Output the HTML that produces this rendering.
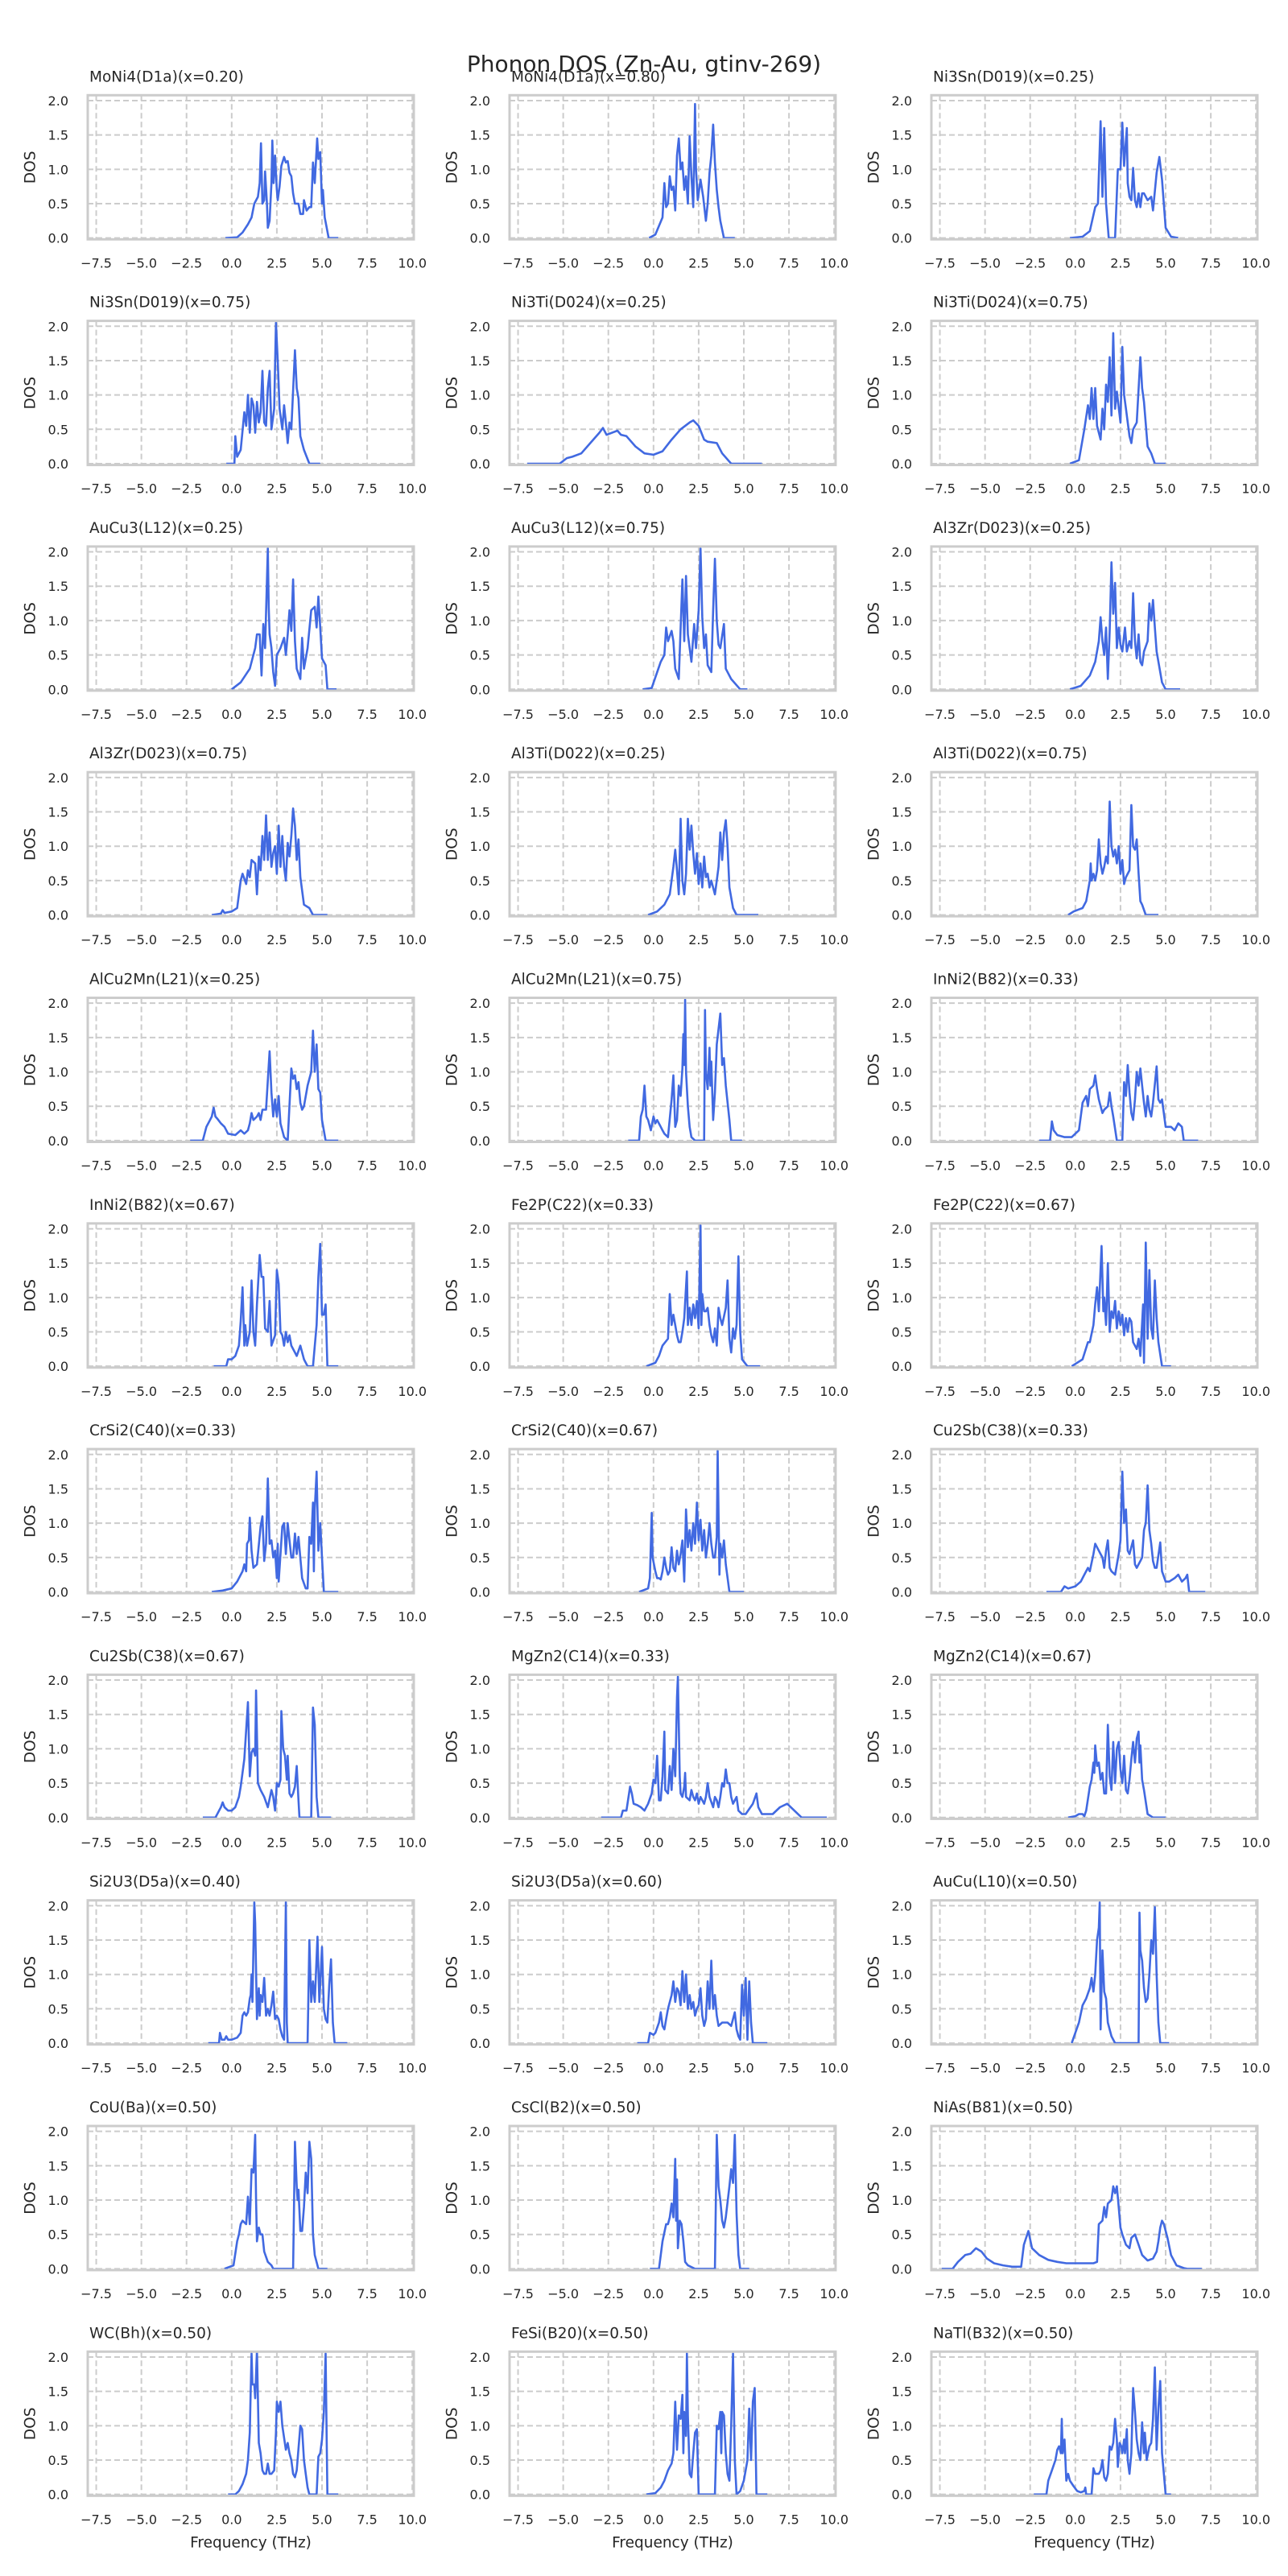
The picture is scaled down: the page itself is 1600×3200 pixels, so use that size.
<!DOCTYPE html>
<html><head><meta charset="utf-8"><style>
html,body{margin:0;padding:0;background:#fff;}
svg{display:block;font-family:"DejaVu Sans","Liberation Sans",sans-serif;}
</style></head><body>
<svg id="fig" width="1600" height="3200" viewBox="0 0 1600 3200" xmlns="http://www.w3.org/2000/svg">
<rect x="0" y="0" width="1600" height="3200" fill="#fff"/>
<text x="800" y="89" font-size="28" text-anchor="middle" fill="#262626">Phonon DOS (Zn-Au, gtinv-269)</text>
</svg>
<script>
const titles = ["MoNi4(D1a)(x=0.20)","MoNi4(D1a)(x=0.80)","Ni3Sn(D019)(x=0.25)","Ni3Sn(D019)(x=0.75)","Ni3Ti(D024)(x=0.25)","Ni3Ti(D024)(x=0.75)","AuCu3(L12)(x=0.25)","AuCu3(L12)(x=0.75)","Al3Zr(D023)(x=0.25)","Al3Zr(D023)(x=0.75)","Al3Ti(D022)(x=0.25)","Al3Ti(D022)(x=0.75)","AlCu2Mn(L21)(x=0.25)","AlCu2Mn(L21)(x=0.75)","InNi2(B82)(x=0.33)","InNi2(B82)(x=0.67)","Fe2P(C22)(x=0.33)","Fe2P(C22)(x=0.67)","CrSi2(C40)(x=0.33)","CrSi2(C40)(x=0.67)","Cu2Sb(C38)(x=0.33)","Cu2Sb(C38)(x=0.67)","MgZn2(C14)(x=0.33)","MgZn2(C14)(x=0.67)","Si2U3(D5a)(x=0.40)","Si2U3(D5a)(x=0.60)","AuCu(L10)(x=0.50)","CoU(Ba)(x=0.50)","CsCl(B2)(x=0.50)","NiAs(B81)(x=0.50)","WC(Bh)(x=0.50)","FeSi(B20)(x=0.50)","NaTl(B32)(x=0.50)"];
const xTicks = [-7.5,-5,-2.5,0,2.5,5,7.5,10];
const xTickLabels = ["\u22127.5","\u22125.0","\u22122.5","0.0","2.5","5.0","7.5","10.0"];
const yTicks = [0,0.5,1,1.5,2];
const yTickLabels = ["0.0","0.5","1.0","1.5","2.0"];
// flat [freq, dos, freq, dos, ...] per subplot
const s0=[-0.35,0,0.3,0.01,0.6,0.08,0.9,0.2,1.1,0.3,1.25,0.5,1.45,0.6,1.55,0.8,1.62,1.38,1.7,0.5,1.8,0.55,1.85,0.97,1.95,0.5,2.0,0.15,2.1,0.25,2.2,0.8,2.25,1.42,2.32,0.8,2.4,1.2,2.5,0.7,2.55,0.55,2.65,0.75,2.75,1.05,2.9,1.18,3.0,1.1,3.1,1.12,3.2,0.95,3.3,0.9,3.4,0.65,3.5,0.5,3.7,0.5,3.8,0.35,3.95,0.35,4.0,0.55,4.1,0.45,4.15,0.4,4.3,0.45,4.4,0.45,4.5,1.1,4.6,0.8,4.73,1.45,4.8,1.15,4.9,1.25,5.0,0.5,5.05,0.7,5.15,0.3,5.37,0,5.9,0];
const s1=[-0.25,0,0.1,0.05,0.5,0.3,0.6,0.8,0.7,0.45,0.8,0.5,0.9,0.9,1.0,0.7,1.1,0.75,1.2,0.4,1.3,1.2,1.4,1.45,1.5,1.0,1.6,1.1,1.7,0.7,1.8,0.9,1.9,0.5,2.0,1.48,2.1,0.9,2.2,0.45,2.3,1.95,2.35,1.0,2.45,0.55,2.6,0.85,2.75,0.6,2.9,0.25,3.0,0.5,3.1,0.95,3.2,1.2,3.3,1.65,3.4,1.1,3.5,0.7,3.6,0.45,3.7,0.25,3.9,0,4.5,0];
const s2=[-0.3,0,0.4,0.02,0.8,0.1,1.1,0.45,1.25,0.5,1.4,1.7,1.5,0.6,1.6,1.6,1.7,0.5,1.85,0,2.2,0,2.35,1.0,2.5,1.0,2.6,1.68,2.7,1.05,2.85,1.6,2.9,0.8,3.0,0.6,3.1,0.55,3.2,1.02,3.3,0.55,3.4,0.45,3.5,0.65,3.6,0.45,3.7,0.65,3.8,0.65,4.0,0.55,4.2,0.6,4.3,0.4,4.5,0.95,4.65,1.18,4.8,0.85,5.0,0.15,5.3,0.02,5.7,0];
const s3=[-0.3,0,0.15,0,0.2,0.4,0.3,0.1,0.5,0.2,0.7,0.75,0.8,0.55,0.9,1.0,1.0,0.45,1.1,0.95,1.2,0.85,1.3,0.45,1.4,0.9,1.5,0.6,1.6,0.75,1.7,1.35,1.8,0.6,1.9,0.55,2.0,1.1,2.1,1.35,2.2,0.5,2.35,0.8,2.45,2.05,2.55,1.5,2.65,0.8,2.8,0.5,2.9,0.85,3.0,0.6,3.1,0.3,3.2,0.6,3.3,0.5,3.5,1.65,3.6,1.1,3.7,0.95,3.8,0.4,4.0,0.2,4.3,0,4.9,0];
const s4=[-7.0,0,-5.2,0,-4.8,0.08,-4.5,0.1,-4.0,0.15,-3.5,0.3,-3.0,0.45,-2.8,0.52,-2.6,0.42,-2.0,0.48,-1.8,0.42,-1.5,0.4,-1.0,0.25,-0.5,0.15,0,0.13,0.5,0.18,1.0,0.35,1.5,0.5,2.0,0.6,2.2,0.63,2.5,0.55,2.8,0.35,3.0,0.32,3.5,0.3,3.8,0.15,4.3,0,6.0,0];
const s5=[-0.3,0,0.2,0.05,0.5,0.5,0.7,0.85,0.8,0.65,0.9,1.1,1.0,0.65,1.1,1.1,1.2,0.55,1.4,0.35,1.5,0.8,1.6,0.5,1.7,1.15,1.8,0.9,1.9,1.55,2.0,0.7,2.1,1.9,2.2,0.8,2.3,1.05,2.5,0.6,2.6,1.7,2.7,1.0,2.8,0.8,2.9,0.6,3.0,0.4,3.1,0.3,3.2,0.5,3.4,0.6,3.6,1.55,3.7,1.1,3.8,0.9,4.0,0.25,4.2,0.15,4.4,0,5.0,0];
const s6=[0,0,0.5,0.1,1.0,0.3,1.3,0.6,1.4,0.8,1.55,0.8,1.65,0.2,1.75,0.95,1.85,0.6,2.0,2.05,2.05,1.2,2.1,0.8,2.2,0.6,2.3,0.25,2.4,0.05,2.5,0.5,2.7,0.6,2.9,0.75,3.0,0.5,3.1,0.8,3.2,1.15,3.3,0.85,3.4,1.6,3.5,0.7,3.6,0.3,3.8,0.15,3.9,0.75,4.0,0.3,4.2,0.6,4.4,1.15,4.6,1.2,4.7,0.9,4.8,1.35,4.9,0.9,5.0,0.45,5.2,0.35,5.3,0,5.8,0];
const s7=[-0.6,0,-0.1,0.02,0.4,0.4,0.6,0.5,0.7,0.9,0.8,0.7,1.0,0.85,1.1,0.7,1.2,0.3,1.4,0.15,1.6,1.6,1.7,0.7,1.8,1.65,1.9,0.8,2.0,0.6,2.1,0.4,2.25,0.95,2.35,0.6,2.5,1.15,2.6,2.05,2.7,1.05,2.8,0.6,2.9,0.8,3.0,0.35,3.2,0.25,3.3,1.15,3.4,1.9,3.5,1.0,3.6,0.65,3.7,0.6,3.9,0.95,4.0,0.3,4.3,0.15,4.8,0,5.2,0];
const s8=[-0.3,0,0.3,0.05,0.8,0.2,1.1,0.4,1.3,0.7,1.4,1.05,1.5,0.7,1.6,0.5,1.7,0.9,1.8,0.15,1.9,0.85,2.0,1.85,2.1,1.1,2.2,1.55,2.3,0.6,2.4,0.9,2.5,0.65,2.6,0.55,2.75,0.9,2.85,0.55,3.0,0.7,3.1,0.6,3.2,1.4,3.3,0.7,3.4,0.45,3.5,0.8,3.6,0.4,3.7,0.35,3.8,0.55,4.0,0.7,4.1,1.25,4.2,1.0,4.3,1.3,4.4,0.9,4.5,0.55,4.8,0.1,5.0,0,5.8,0];
const s9=[-1.1,0,-0.6,0.02,-0.5,0.07,-0.4,0.03,0,0.05,0.3,0.1,0.5,0.5,0.6,0.6,0.8,0.45,0.9,0.65,1.0,0.55,1.1,0.8,1.3,0.75,1.4,0.3,1.5,0.85,1.6,0.65,1.7,1.15,1.8,0.8,1.9,1.45,2.0,0.8,2.1,1.2,2.2,0.7,2.3,0.9,2.4,1.0,2.5,0.6,2.6,1.3,2.7,0.7,2.8,1.15,2.9,0.7,3.0,0.5,3.1,1.05,3.2,0.85,3.3,1.15,3.4,1.55,3.5,1.3,3.6,0.8,3.7,1.1,3.8,0.55,4.0,0.15,4.3,0.1,4.5,0,5.3,0];
const s10=[-0.3,0,0.2,0.05,0.6,0.15,0.9,0.3,1.1,0.7,1.2,0.95,1.3,0.65,1.4,0.3,1.5,1.4,1.6,0.5,1.7,0.3,1.8,0.6,1.9,1.4,2.0,0.95,2.1,1.3,2.2,0.9,2.3,0.6,2.4,0.9,2.5,0.45,2.6,0.75,2.7,0.4,2.8,0.85,2.9,0.55,3.0,0.6,3.1,0.4,3.2,0.5,3.4,0.3,3.5,0.5,3.6,0.7,3.7,1.2,3.8,0.8,3.9,1.2,4.0,1.38,4.1,1.0,4.2,0.4,4.4,0.1,4.6,0,5.8,0];
const s11=[-0.4,0,-0.1,0.05,0.2,0.08,0.4,0.1,0.6,0.2,0.8,0.5,0.85,0.75,0.9,0.5,1.0,0.6,1.1,0.5,1.2,0.65,1.3,1.1,1.4,0.75,1.5,0.6,1.6,0.7,1.7,0.85,1.8,0.75,1.9,1.65,2.0,1.0,2.1,0.85,2.2,0.95,2.3,0.75,2.4,1.0,2.5,0.6,2.6,0.8,2.7,0.45,2.8,0.55,3.0,0.65,3.1,1.6,3.2,1.0,3.3,0.95,3.4,1.1,3.5,0.6,3.6,0.2,3.7,0.15,3.9,0,4.6,0];
const s12=[-2.3,0,-1.6,0,-1.4,0.2,-1.2,0.3,-1.1,0.35,-1.0,0.48,-0.9,0.35,-0.8,0.32,-0.6,0.25,-0.4,0.2,-0.2,0.1,0.2,0.08,0.5,0.15,0.7,0.1,0.9,0.15,1.0,0.25,1.1,0.4,1.2,0.3,1.4,0.35,1.5,0.4,1.6,0.3,1.7,0.45,1.9,0.45,2.1,1.3,2.2,0.7,2.3,0.35,2.4,0.6,2.5,0.35,2.6,0.65,2.7,0.25,2.9,0.05,3.1,0,3.3,1.05,3.4,0.9,3.5,0.95,3.6,0.75,3.7,0.85,3.8,0.55,3.9,0.45,4.0,0.5,4.2,0.8,4.4,1.0,4.5,1.6,4.6,1.0,4.7,1.4,4.8,0.75,4.9,0.7,5.0,0.3,5.2,0,5.9,0];
const s13=[-1.4,0,-0.8,0,-0.7,0.35,-0.6,0.45,-0.5,0.8,-0.4,0.35,-0.3,0.3,-0.15,0.15,0,0.35,0.1,0.25,0.2,0.3,0.4,0.2,0.5,0.15,0.6,0.1,0.8,0.05,1.0,0.6,1.1,0.95,1.2,0.2,1.3,0.3,1.4,0.8,1.5,0.65,1.6,1.05,1.65,1.55,1.7,1.1,1.75,2.05,1.8,1.0,1.9,0.5,2.0,0.2,2.1,0.05,2.3,0,2.8,0,2.85,1.9,2.9,1.0,3.0,0.75,3.1,1.35,3.15,0.8,3.2,1.15,3.3,0.3,3.4,0.7,3.5,1.4,3.7,1.85,3.8,1.1,3.9,1.2,4.0,0.8,4.2,0.3,4.3,0,4.9,0];
const s14=[-2.0,0,-1.4,0,-1.3,0.28,-1.2,0.15,-1.0,0.08,-0.6,0.05,-0.2,0.05,0.2,0.15,0.4,0.55,0.6,0.65,0.7,0.5,0.8,0.75,1.0,0.8,1.1,0.95,1.2,0.75,1.3,0.6,1.4,0.5,1.5,0.4,1.6,0.45,1.8,0.5,1.9,0.7,2.0,0.5,2.1,0.35,2.3,0,2.6,0,2.7,0.85,2.8,0.65,2.9,1.1,3.0,0.7,3.1,0.4,3.2,0.3,3.3,0.6,3.4,1.0,3.5,0.8,3.6,1.05,3.7,0.8,3.8,0.55,3.9,0.35,4.0,0.65,4.1,0.45,4.2,0.35,4.3,0.55,4.5,1.08,4.6,0.6,4.7,0.55,4.8,0.6,5.0,0.2,5.3,0.2,5.5,0.15,5.7,0.25,5.9,0.2,6.0,0,6.8,0];
const s15=[-1.0,0,-0.3,0,-0.2,0.1,0,0.1,0.2,0.15,0.4,0.3,0.5,0.65,0.6,1.15,0.7,0.3,0.75,0.6,0.85,0.3,1.0,0.5,1.1,1.25,1.2,0.5,1.3,0.3,1.4,0.9,1.55,1.62,1.65,1.3,1.75,1.3,1.85,0.55,2.0,0.5,2.1,0.95,2.2,0.3,2.4,0.45,2.5,1.4,2.6,1.2,2.7,0.5,2.8,0.45,2.9,0.3,3.0,0.5,3.1,0.35,3.2,0.45,3.3,0.3,3.5,0.2,3.6,0.15,3.8,0.3,4.0,0.1,4.2,0,4.5,0,4.7,0.6,4.8,1.3,4.9,1.78,5.0,0.75,5.1,0.75,5.2,0.9,5.3,0,5.9,0];
const s16=[-0.4,0,0.1,0.05,0.3,0.15,0.5,0.3,0.8,0.4,0.9,1.05,1.0,0.6,1.1,0.75,1.2,0.6,1.3,0.45,1.4,0.35,1.5,0.35,1.6,0.5,1.7,0.7,1.85,1.38,1.9,0.6,2.0,0.85,2.1,0.6,2.2,0.9,2.3,0.7,2.4,0.95,2.5,0.55,2.6,2.05,2.65,0.6,2.7,1.05,2.8,0.8,2.9,0.8,3.0,0.85,3.1,0.6,3.2,0.45,3.3,0.35,3.4,0.55,3.5,0.3,3.6,0.85,3.7,0.7,3.8,0.6,4.0,0.85,4.1,1.25,4.2,0.4,4.3,0.2,4.4,0.55,4.5,0.4,4.6,0.6,4.7,1.6,4.8,0.5,4.9,0.1,5.2,0,5.9,0];
const s17=[-0.2,0,0.4,0.1,0.7,0.35,0.8,0.35,1.0,0.6,1.1,0.9,1.2,1.15,1.3,0.8,1.45,1.75,1.55,0.8,1.6,1.0,1.7,0.6,1.8,1.5,1.9,0.5,2.0,0.8,2.1,0.7,2.2,0.95,2.3,0.55,2.4,0.8,2.5,0.6,2.6,0.75,2.7,0.45,2.8,0.7,2.9,0.5,3.0,0.7,3.1,0.65,3.2,0.35,3.4,0.25,3.5,0.4,3.6,0.15,3.75,0.9,3.8,0.05,3.9,1.8,4.0,0.4,4.1,1.4,4.2,0.55,4.3,0.4,4.4,1.25,4.5,0.7,4.6,0.35,4.8,0,5.3,0];
const s18=[-1.1,0,-0.5,0.02,0,0.05,0.3,0.15,0.6,0.3,0.7,0.4,0.8,0.3,0.85,0.7,0.95,0.75,1.0,1.08,1.1,0.6,1.2,0.35,1.4,0.4,1.6,0.95,1.7,1.1,1.8,0.45,1.9,0.7,2.0,1.65,2.1,0.7,2.2,0.75,2.3,0.5,2.4,0.6,2.5,0.2,2.55,0.7,2.6,0.15,2.8,0.95,2.9,1.0,3.0,0.55,3.1,1.0,3.2,0.75,3.3,0.5,3.4,0.5,3.5,0.85,3.6,0.55,3.7,0.8,3.9,0.2,4.1,0.05,4.2,0.05,4.3,0.8,4.4,0.7,4.5,1.3,4.55,0.3,4.6,1.2,4.7,1.75,4.8,0.6,4.9,1.0,5.0,0.5,5.1,0,5.9,0];
const s19=[-0.8,0,-0.3,0.05,-0.2,0.2,-0.1,1.15,-0.05,0.5,0.1,0.3,0.2,0.2,0.3,0.2,0.4,0.18,0.5,0.3,0.6,0.5,0.7,0.35,0.8,0.25,0.9,0.3,1.0,0.65,1.1,0.35,1.2,0.3,1.3,0.6,1.4,0.4,1.5,0.55,1.6,0.75,1.7,0.15,1.8,1.2,1.9,0.65,2.0,0.9,2.1,0.6,2.2,1.0,2.3,0.7,2.4,1.3,2.5,0.75,2.6,1.05,2.7,0.6,2.8,0.9,2.9,0.5,3.0,0.7,3.1,1.0,3.2,0.7,3.3,0.5,3.4,0.5,3.5,0.8,3.55,2.05,3.65,0.25,3.7,0.7,3.8,0.5,3.9,0.75,4.0,0.4,4.2,0,5.0,0];
const s20=[-1.6,0,-0.8,0,-0.6,0.08,-0.4,0.05,0,0.08,0.3,0.15,0.5,0.25,0.7,0.35,0.8,0.3,1.0,0.55,1.1,0.7,1.3,0.6,1.4,0.55,1.5,0.5,1.6,0.35,1.7,0.6,1.8,0.75,1.9,0.35,2.0,0.3,2.2,0.25,2.4,0.55,2.5,0.75,2.6,1.75,2.7,1.0,2.8,1.2,2.9,0.6,3.0,0.55,3.2,0.75,3.3,0.4,3.4,0.35,3.6,0.45,3.7,0.5,3.8,0.9,3.9,1.0,4.0,1.55,4.1,0.9,4.2,0.7,4.3,0.45,4.4,0.35,4.5,0.35,4.7,0.72,4.8,0.3,5.0,0.15,5.2,0.15,5.5,0.2,5.7,0.25,5.9,0.15,6.1,0.2,6.2,0.25,6.3,0,7.2,0];
const s21=[-1.6,0,-0.9,0,-0.6,0.15,-0.5,0.22,-0.4,0.15,-0.2,0.1,0,0.1,0.2,0.15,0.4,0.3,0.5,0.45,0.7,0.85,0.9,1.68,1.0,0.6,1.1,0.95,1.2,1.0,1.3,0.9,1.35,1.85,1.45,0.5,1.6,0.4,1.8,0.3,2.0,0.15,2.2,0.4,2.3,0.3,2.4,0.1,2.5,0.5,2.6,0.45,2.7,0.55,2.75,1.55,2.85,1.0,2.95,0.9,3.05,0.55,3.1,0.9,3.2,0.35,3.3,0.3,3.4,0.35,3.5,0.45,3.6,0.75,3.7,0.25,3.75,0,4.4,0,4.5,1.6,4.6,1.35,4.7,0.3,4.8,0,5.5,0];
const s22=[-2.9,0,-1.8,0,-1.7,0.1,-1.5,0.1,-1.3,0.45,-1.2,0.35,-1.1,0.2,-0.9,0.18,-0.7,0.15,-0.5,0.1,-0.3,0.2,-0.1,0.35,0,0.55,0.1,0.5,0.2,0.9,0.3,0.25,0.4,0.25,0.5,0.6,0.6,1.25,0.65,0.4,0.8,0.35,0.9,0.75,1.0,0.4,1.1,1.0,1.2,0.6,1.3,1.75,1.35,2.05,1.45,0.6,1.5,0.35,1.6,0.3,1.7,0.45,1.75,0.65,1.8,0.3,2.0,0.25,2.1,0.4,2.2,0.3,2.3,0.25,2.4,0.35,2.5,0.2,2.6,0.3,2.8,0.2,2.9,0.3,3.0,0.5,3.1,0.3,3.3,0.15,3.4,0.3,3.5,0.25,3.6,0.15,3.7,0.3,3.8,0.5,3.9,0.45,4.0,0.7,4.1,0.5,4.2,0.5,4.3,0.3,4.4,0.2,4.6,0.3,4.7,0.1,4.9,0.05,5.1,0.05,5.5,0.2,5.7,0.35,5.8,0.15,6.0,0.05,6.3,0.05,6.6,0.05,7.0,0.15,7.4,0.2,7.8,0.1,8.2,0,9.6,0];
const s23=[-0.4,0,0,0.02,0.2,0.05,0.4,0.05,0.5,0.02,0.6,0.1,0.8,0.45,0.9,0.55,1.0,0.8,1.05,0.65,1.1,1.05,1.2,0.75,1.3,0.8,1.4,0.55,1.5,0.65,1.6,0.35,1.7,0.35,1.8,1.35,1.9,0.6,2.0,0.4,2.1,1.1,2.2,0.5,2.3,1.0,2.4,1.1,2.5,0.7,2.6,0.5,2.7,0.9,2.8,0.4,2.9,0.35,3.0,0.55,3.1,0.85,3.2,1.1,3.3,0.8,3.4,1.15,3.5,1.25,3.55,0.8,3.6,1.05,3.7,0.55,3.8,0.4,4.0,0.05,4.3,0,5.0,0];
const s24=[-1.3,0,-0.7,0,-0.65,0.15,-0.55,0.05,-0.4,0.05,-0.3,0.1,-0.2,0.05,0,0.05,0.3,0.08,0.5,0.15,0.6,0.4,0.7,0.45,0.8,0.4,0.9,0.45,1.0,0.65,1.05,0.7,1.1,1.0,1.15,0.6,1.25,2.05,1.3,1.75,1.4,0.35,1.5,0.8,1.55,0.4,1.6,0.7,1.7,0.6,1.8,0.95,1.9,0.4,2.0,0.5,2.1,0.4,2.2,0.55,2.3,0.75,2.4,0.35,2.5,0.4,2.6,0.35,2.7,0.2,2.8,0.1,2.9,0.05,3.0,2.05,3.05,0.3,3.1,0,3.2,0,4.2,0,4.3,1.5,4.4,0.6,4.5,0.9,4.6,0.6,4.75,1.55,4.85,0.6,5.0,1.4,5.1,0.5,5.2,0.35,5.3,0.3,5.4,0.85,5.5,1.22,5.6,0.3,5.7,0,6.4,0];
const s25=[-0.9,0,-0.3,0,-0.2,0.15,0,0.12,0.1,0.15,0.3,0.3,0.4,0.45,0.5,0.25,0.6,0.2,0.7,0.35,0.8,0.5,1.0,0.7,1.1,0.9,1.2,0.6,1.3,0.8,1.4,0.75,1.5,0.55,1.6,1.05,1.7,0.6,1.8,1.0,1.9,0.5,2.0,0.7,2.1,0.5,2.2,0.6,2.3,0.4,2.4,0.5,2.5,0.55,2.6,0.8,2.7,0.4,2.8,0.25,2.9,0.35,3.0,0.9,3.1,0.5,3.2,1.2,3.3,0.5,3.4,0.7,3.5,0.4,3.6,0.25,3.8,0.3,4.1,0.3,4.3,0.25,4.5,0.45,4.6,0.2,4.7,0.1,4.8,0.05,4.9,0.85,5.0,0.4,5.1,0.95,5.2,0.05,5.3,0.9,5.4,0.3,5.5,0,6.3,0];
const s26=[-0.2,0,0.2,0.3,0.4,0.55,0.6,0.65,0.8,0.8,0.9,0.95,1.0,0.75,1.1,1.0,1.2,1.5,1.3,1.68,1.35,2.05,1.4,0.2,1.5,1.35,1.6,0.75,1.7,0.65,1.8,0.3,2.0,0.1,2.2,0,3.5,0,3.55,1.9,3.6,1.35,3.7,1.2,3.8,0.8,3.9,0.6,4.0,0.65,4.1,1.0,4.2,1.5,4.3,1.3,4.4,1.98,4.5,1.0,4.6,0.3,4.7,0,5.2,0];
const s27=[-0.4,0,0.1,0.05,0.3,0.4,0.4,0.5,0.5,0.65,0.6,0.7,0.8,0.65,0.9,1.05,1.0,0.65,1.1,1.45,1.2,1.4,1.3,1.95,1.35,1.0,1.4,0.4,1.5,0.6,1.6,0.5,1.7,0.5,1.8,0.25,2.0,0.1,2.2,0.05,2.3,0,3.4,0,3.5,1.85,3.6,1.2,3.65,1.0,3.7,1.15,3.8,0.55,3.9,0.55,4.0,0.9,4.1,1.4,4.2,1.1,4.3,1.85,4.4,1.6,4.5,0.5,4.6,0.2,4.8,0,5.3,0];
const s28=[-0.2,0,0.3,0,0.5,0.4,0.7,0.65,0.8,0.65,0.9,0.75,1.0,0.95,1.1,0.75,1.2,1.6,1.25,0.7,1.3,1.3,1.35,0.3,1.45,0.7,1.55,0.65,1.65,0.4,1.75,0.1,1.9,0.05,2.3,0,3.4,0,3.5,1.95,3.6,1.2,3.7,1.0,3.8,0.7,3.9,0.6,4.0,0.75,4.2,1.2,4.3,1.45,4.4,1.25,4.5,1.95,4.6,0.8,4.7,0.2,4.8,0,5.3,0];
const s29=[-7.4,0,-6.8,0,-6.5,0.1,-6.1,0.2,-5.8,0.22,-5.5,0.3,-5.2,0.25,-4.9,0.15,-4.5,0.08,-4.0,0.05,-3.5,0.03,-3.0,0.03,-2.85,0.35,-2.6,0.55,-2.4,0.3,-2.0,0.2,-1.5,0.13,-1.0,0.1,-0.5,0.08,0,0.08,0.5,0.08,1.0,0.08,1.2,0.1,1.3,0.65,1.5,0.7,1.6,0.9,1.7,0.75,1.8,0.95,2.0,1.0,2.1,1.2,2.2,1.1,2.3,1.2,2.4,0.9,2.5,0.6,2.6,0.5,2.8,0.35,3.0,0.3,3.1,0.45,3.3,0.5,3.5,0.35,3.7,0.2,4.0,0.12,4.3,0.15,4.5,0.25,4.6,0.4,4.7,0.6,4.8,0.7,4.9,0.65,5.1,0.45,5.3,0.2,5.6,0.05,6.0,0.01,6.2,0,7.0,0];
const s30=[-0.2,0,0.2,0,0.4,0.05,0.6,0.15,0.8,0.3,0.9,0.5,1.0,0.9,1.05,1.5,1.1,2.05,1.15,1.6,1.25,1.6,1.3,1.4,1.4,2.1,1.5,0.75,1.6,0.6,1.7,0.35,1.8,0.3,1.9,0.3,2.0,0.45,2.1,0.3,2.2,0.3,2.35,0.35,2.45,0.9,2.5,1.35,2.6,1.2,2.7,1.35,2.8,1.0,3.0,0.65,3.1,0.75,3.2,0.6,3.3,0.5,3.4,0.3,3.5,0.25,3.6,0.35,3.8,1.0,3.9,0.95,4.0,0.5,4.1,0.3,4.2,0.1,4.3,0,4.7,0,4.8,0.55,4.9,0.6,5.0,0.8,5.1,1.2,5.2,2.05,5.25,1.0,5.3,0,5.9,0];
const s31=[-0.4,0,0.1,0.02,0.4,0.1,0.6,0.2,0.8,0.35,1.0,0.45,1.1,0.6,1.2,1.35,1.3,0.65,1.4,1.15,1.5,1.1,1.6,1.45,1.65,0.6,1.7,1.2,1.8,0.85,1.85,2.05,1.9,1.15,2.0,0.3,2.1,0.25,2.2,0.6,2.3,0.9,2.4,0.95,2.5,0,3.4,0,3.5,1.0,3.6,0.95,3.7,1.2,3.75,0.6,3.8,1.2,3.9,1.15,4.0,0.6,4.1,0.3,4.2,0.2,4.3,1.0,4.4,2.05,4.5,0.5,4.6,0,4.8,0.05,5.0,0.2,5.2,0.5,5.3,1.25,5.4,0.5,5.5,1.35,5.6,1.55,5.7,0,6.3,0];
const s32=[-2.3,0,-1.6,0,-1.5,0.2,-1.3,0.35,-1.1,0.5,-1.0,0.65,-0.9,0.7,-0.8,0.6,-0.75,1.1,-0.7,0.6,-0.6,0.8,-0.5,0.2,-0.4,0.3,-0.3,0.2,-0.1,0.12,0.1,0.05,0.3,0.03,0.5,0.05,0.55,0.1,0.6,0,0.9,0,1.0,0.38,1.1,0.3,1.3,0.3,1.4,0.35,1.5,0.5,1.6,0.25,1.7,0.2,1.8,0.3,1.9,0.7,2.0,0.65,2.1,0.75,2.2,1.1,2.3,0.8,2.35,0.4,2.45,0.75,2.55,0.7,2.6,0.6,2.7,0.8,2.75,0.6,2.85,0.95,2.9,0.5,3.0,0.3,3.1,0.6,3.2,1.55,3.3,1.2,3.4,0.8,3.5,0.6,3.6,0.5,3.7,1.05,3.8,0.6,3.85,0.9,3.95,0.5,4.1,0.7,4.2,0.75,4.3,1.1,4.4,1.85,4.5,0.65,4.6,1.25,4.7,1.65,4.8,0.6,4.9,0.3,5.0,0,5.3,0];
const series=[s0,s1,s2,s3,s4,s5,s6,s7,s8,s9,s10,s11,s12,s13,s14,s15,s16,s17,s18,s19,s20,s21,s22,s23,s24,s25,s26,s27,s28,s29,s30,s31,s32];

const NS="http://www.w3.org/2000/svg";
const svg=document.getElementById('fig');
const colLeft=[109,633,1157], rowTop0=118.3, rowStep=280.3, AW=405, AH=179;
const XMIN=-7.97, XMAX=10.08, YMIN=-0.019, YMAX=2.078;
function mk(tag,attrs,parent){const e=document.createElementNS(NS,tag);for(const k in attrs)e.setAttribute(k,attrs[k]);(parent||svg).appendChild(e);return e;}
const defs=mk('defs',{});
for(let i=0;i<series.length;i++){
  const r=Math.floor(i/3), c=i%3;
  const L=colLeft[c], T=rowTop0+r*rowStep;
  const sx=v=>L+(v-XMIN)/(XMAX-XMIN)*AW;
  const sy=v=>T+AH-(v-YMIN)/(YMAX-YMIN)*AH;
  const g=mk('g',{});
  
  
  const cp=mk('clipPath',{id:'cp'+i},defs);
  mk('rect',{x:L,y:T,width:AW,height:AH},cp);
  xTicks.forEach((t,k)=>{
    const gl=mk('line',{x1:sx(t),x2:sx(t),y1:T,y2:T+AH,stroke:'#cccccc','stroke-width':2,'stroke-dasharray':'7,4'},g);
    
    
    const tl=mk('text',{x:sx(t),y:T+AH+35,'font-size':16,'text-anchor':'middle',fill:'#262626'},g);
    tl.textContent=xTickLabels[k];
    
    
  });
  yTicks.forEach((t,k)=>{
    const gl=mk('line',{x1:L,x2:L+AW,y1:sy(t),y2:sy(t),stroke:'#cccccc','stroke-width':2,'stroke-dasharray':'7,4'},g);
    
    
    const tl=mk('text',{x:L-24,y:sy(t)+6,'font-size':16,'text-anchor':'end',fill:'#262626'},g);
    tl.textContent=yTickLabels[k];
    
    
  });
  const d=series[i]; let p='';
  for(let j=0;j<d.length;j+=2){p+=(j?'L':'M')+sx(d[j]).toFixed(1)+','+sy(d[j+1]).toFixed(1);}
  const path=mk('path',{d:p,fill:'none',stroke:'#4169e1','stroke-width':2.6,'stroke-linejoin':'round','clip-path':'url(#cp'+i+')'},g);
  
  
  const fr=mk('rect',{x:L,y:T,width:AW,height:AH,fill:'none',stroke:'#cccccc','stroke-width':3},g);
  
  
  const tt=mk('text',{x:L+2,y:T-17,'font-size':18.5,fill:'#262626'},g);
  tt.textContent=titles[i];
  
  
  const yl=mk('text',{x:L-71,y:T+AH/2,'font-size':18.5,'text-anchor':'middle','dominant-baseline':'central',fill:'#262626',transform:'rotate(-90 '+(L-71)+' '+(T+AH/2)+')'},g);
  yl.textContent='DOS';
  
  
  if(r===10){
    const xl=mk('text',{x:L+AW/2,y:T+AH+64,'font-size':18.5,'text-anchor':'middle',fill:'#262626'},g);
    xl.textContent='Frequency (THz)';
    
    
  }
}
</script>
</body></html>
